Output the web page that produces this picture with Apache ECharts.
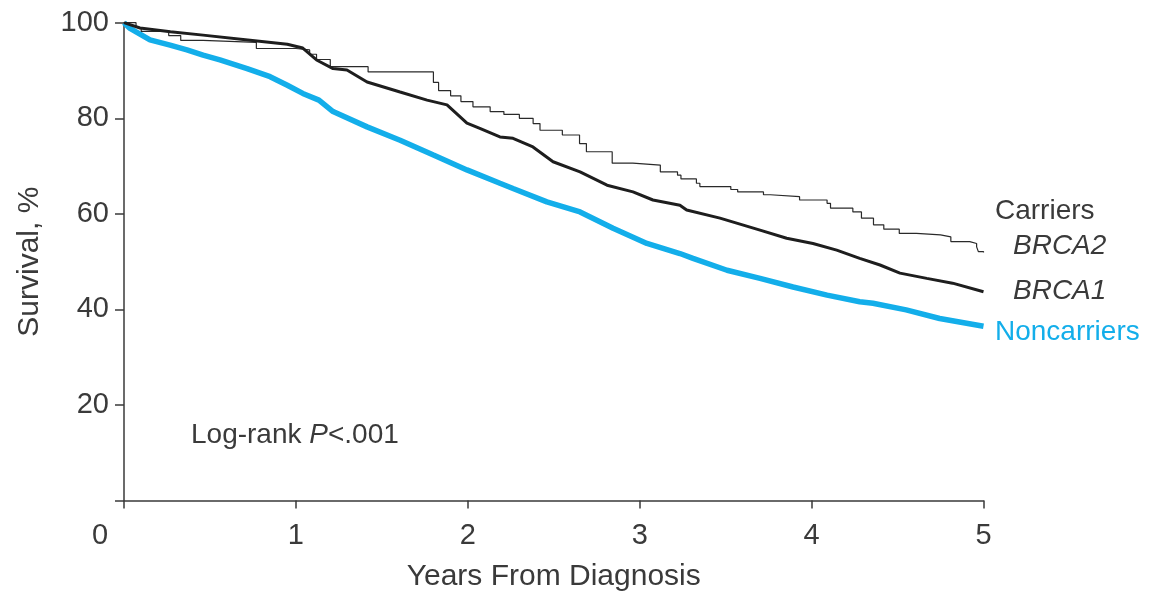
<!DOCTYPE html>
<html>
<head>
<meta charset="utf-8">
<script src="https://cdn.jsdelivr.net/npm/echarts@6/dist/echarts.min.js"></script>
<style>
  html, body { margin: 0; padding: 0; background: #fff; }
  #container { width: 1149px; height: 592px; }
</style>
</head>
<body>
<div id="container"></div>
<script>
// years from diagnosis / survival %
var brca1Years = [0, 0.093, 0.27, 0.46, 0.72, 0.95, 1.04, 1.12, 1.216, 1.297, 1.414, 1.606, 1.763, 1.879, 1.995, 2.07, 2.187, 2.263, 2.379, 2.496, 2.653, 2.81, 2.961, 3.077, 3.234, 3.273, 3.467, 3.70, 3.855, 4.008, 4.146, 4.28, 4.398, 4.514, 4.67, 4.82, 5.0];
var brca1Surv  = [100, 98.9, 98.1, 97.4, 96.4, 95.5, 94.7, 92.2, 90.4, 90.1, 87.6, 85.5, 83.8, 82.8, 79.0, 77.9, 76.1, 75.8, 74.0, 70.9, 68.8, 66.0, 64.6, 62.9, 61.8, 60.8, 59.1, 56.6, 54.9, 53.8, 52.4, 50.7, 49.3, 47.6, 46.5, 45.5, 43.7];

// BRCA2 is a step curve: value becomes surv[i] at years[i]
var brca2Years = [0, 0.07, 0.1, 0.26, 0.33, 0.46, 0.77, 1.0, 1.08, 1.12, 1.2, 1.42, 1.8, 1.83, 1.9, 1.96, 2.03, 2.13, 2.21, 2.3, 2.38, 2.42, 2.55, 2.65, 2.69, 2.84, 2.96, 3.12, 3.22, 3.24, 3.33, 3.35, 3.53, 3.57, 3.72, 3.76, 3.93, 4.09, 4.11, 4.24, 4.29, 4.36, 4.42, 4.51, 4.61, 4.75, 4.81, 4.92, 4.96, 4.97, 5.0];
var brca2Surv  = [100, 99.0, 98.2, 97.3, 96.3, 95.9, 94.6, 94.3, 93.4, 92.3, 90.8, 89.7, 87.5, 85.8, 84.7, 83.5, 82.4, 81.4, 80.8, 80.0, 78.9, 77.5, 76.5, 74.7, 73.0, 70.6, 70.2, 68.8, 68.1, 67.3, 66.4, 65.7, 65.1, 64.6, 64.0, 63.6, 62.9, 62.2, 61.2, 60.4, 59.1, 57.7, 56.8, 55.9, 55.6, 55.2, 54.2, 53.8, 53.1, 52.1, 51.9];

var nonYears = [0, 0.035, 0.151, 0.268, 0.366, 0.46, 0.558, 0.716, 0.85, 0.95, 1.04, 1.134, 1.216, 1.414, 1.606, 1.80, 1.995, 2.187, 2.263, 2.46, 2.653, 2.845, 3.042, 3.234, 3.31, 3.508, 3.70, 3.892, 4.09, 4.28, 4.357, 4.55, 4.745, 5.0];
var nonSurv  = [100, 98.8, 96.4, 95.3, 94.3, 93.2, 92.2, 90.4, 88.7, 86.9, 85.2, 83.8, 81.4, 78.2, 75.4, 72.3, 69.2, 66.4, 65.3, 62.5, 60.4, 57.0, 53.8, 51.7, 50.7, 48.2, 46.5, 44.7, 43.0, 41.6, 41.3, 39.9, 38.1, 36.5];

var xTicks = [0, 1, 2, 3, 4, 5];
var yTicks = [0, 20, 40, 60, 80, 100];

function zip(a, b) {
    var out = [];
    for (var i = 0; i < a.length; i++) {
        out.push([a[i], b[i]]);
    }
    return out;
}

var FONT = 'Liberation Sans';
var TXT = '#3a3a3a';
var AXIS = '#3a3a3a';
var BLUE = '#13aeea';

var myChart = echarts.init(document.getElementById('container'));
var option = {
    animation: false,
    grid: { left: 124, right: 165.5, top: 22.7, bottom: 91.4, outerBoundsMode: 'none', containLabel: false },
    xAxis: {
        type: 'value',
        min: xTicks[0],
        max: xTicks[xTicks.length - 1],
        interval: 1,
        name: 'Years From Diagnosis',
        nameLocation: 'middle',
        nameGap: 61,
        nameTextStyle: { fontFamily: FONT, fontSize: 30, color: TXT },
        axisLine: { onZero: false, lineStyle: { color: AXIS, width: 1.5 } },
        axisTick: { length: 8, lineStyle: { color: AXIS, width: 1.5 } },
        axisLabel: {
            margin: 21,
            fontFamily: FONT, fontSize: 29, color: TXT,
            formatter: function (v) { return v === 0 ? '' : String(v); }
        },
        splitLine: { show: false }
    },
    yAxis: {
        type: 'value',
        min: yTicks[0],
        max: yTicks[yTicks.length - 1],
        interval: 20,
        name: 'Survival, %',
        nameLocation: 'middle',
        nameGap: 79,
        nameTextStyle: { fontFamily: FONT, fontSize: 30, color: TXT },
        axisLine: { lineStyle: { color: AXIS, width: 1.5 } },
        axisTick: { length: 9, lineStyle: { color: AXIS, width: 1.5 } },
        axisLabel: {
            margin: 15,
            fontFamily: FONT, fontSize: 29, color: TXT,
            formatter: function (v) { return v === 0 ? '' : String(v); }
        },
        splitLine: { show: false }
    },
    series: [
        {
            name: 'Noncarriers',
            type: 'line',
            data: zip(nonYears, nonSurv),
            showSymbol: false,
            lineStyle: { color: BLUE, width: 5.5 },
            z: 2
        },
        {
            name: 'BRCA2',
            type: 'line',
            step: 'end',
            data: zip(brca2Years, brca2Surv),
            showSymbol: false,
            lineStyle: { color: '#2a2a2a', width: 1.2 },
            z: 3
        },
        {
            name: 'BRCA1',
            type: 'line',
            data: zip(brca1Years, brca1Surv),
            showSymbol: false,
            lineStyle: { color: '#1e1e1e', width: 3 },
            z: 4
        }
    ],
    graphic: [
        { type: 'text', left: 92, top: 521, style: { text: '0', font: '29px "Liberation Sans"', fill: TXT } },
        { type: 'text', left: 995, top: 197, style: { text: 'Carriers', font: '28px "Liberation Sans"', fill: TXT } },
        { type: 'text', left: 1013, top: 232, style: { text: 'BRCA2', font: 'italic 28px "Liberation Sans"', fill: TXT } },
        { type: 'text', left: 1013, top: 277, style: { text: 'BRCA1', font: 'italic 28px "Liberation Sans"', fill: TXT } },
        { type: 'text', left: 995, top: 318, style: { text: 'Noncarriers', font: '28px "Liberation Sans"', fill: BLUE } },
        {
            type: 'text', left: 191, top: 421,
            style: {
                text: '{n|Log-rank }{i|P}{n|<.001}',
                rich: {
                    n: { fontFamily: FONT, fontSize: 28, fill: TXT, color: TXT },
                    i: { fontFamily: FONT, fontSize: 28, fontStyle: 'italic', fill: TXT, color: TXT }
                }
            }
        }
    ]
};

myChart.setOption(option);
</script>
</body>
</html>
